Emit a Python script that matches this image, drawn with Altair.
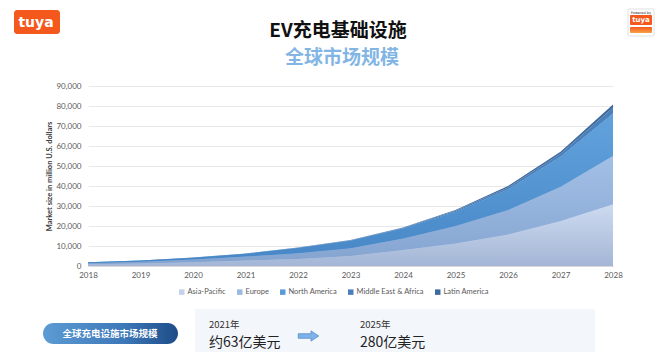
import altair as alt
import pandas as pd

# ---------------- data ----------------
years = list(range(2018, 2029))
regions = ["Asia-Pacific", "Europe", "North America", "Middle East & Africa", "Latin America"]
asia_pacific = [900, 1300, 1900, 2700, 3500, 5000, 8000, 11300, 15800, 22500, 30850]
europe = [500, 800, 1300, 2000, 2900, 3900, 5800, 8700, 12200, 17150, 24300]
north_america = [450, 620, 900, 1400, 2600, 3700, 5000, 7000, 10300, 15000, 21150]
middle_east_africa = [30, 50, 60, 120, 180, 250, 300, 600, 1000, 1500, 2800]
latin_america = [20, 30, 40, 80, 120, 150, 200, 400, 700, 1000, 1700]
series = [asia_pacific, europe, north_america, middle_east_africa, latin_america]
region_colors = ["#c3d2ea", "#9bb8e0", "#5b9bd5", "#4b80ba", "#3f6a9e"]
y_ticks = list(range(0, 90001, 10000))

title_text = "EV充电基础设施"
subtitle_text = "全球市场规模"
pill_text = "全球充电设施市场规模"
left_year, left_value = "2021年", "约63亿美元"
right_year, right_value = "2025年", "280亿美元"

rows = []
for k, (name, vals) in enumerate(zip(regions, series)):
    for yr, v in zip(years, vals):
        rows.append({"year": yr, "region": name, "order": k, "value": v})
df = pd.DataFrame(rows)

FONT = "Lato"
CJK = "Noto Sans CJK SC"

x_enc = alt.X("year:Q", scale=alt.Scale(domain=[2018, 2028], nice=False, zero=False),
              axis=alt.Axis(values=years, format="d", title=None, grid=False, ticks=False,
                            domain=True, domainColor="#d9d9d9", labelColor="#595959",
                            labelFontSize=8, labelPadding=5, labelFont=FONT, labelFlush=False))
y_enc = alt.Y("lo:Q", scale=alt.Scale(domain=[0, 90000], nice=False),
              axis=alt.Axis(values=y_ticks, format=",.0f", title="Market size in million U.S. dollars",
                            titleFontSize=7.5, titleFontWeight="bold", titleColor="#404040",
                            titleFont=FONT, titlePadding=2,
                            grid=True, gridColor="#e8e8e8", ticks=False, domain=False,
                            labelColor="#595959", labelFontSize=8, labelPadding=7, labelFont=FONT))

stacked = alt.Chart(df).transform_stack(
    stack="value", groupby=["year"], as_=["lo", "hi"], sort=[alt.SortField("order")]
)

base_area = stacked.mark_area(interpolate="linear").encode(
    x=x_enc, y=y_enc, y2="hi:Q",
    color=alt.Color("region:N", scale=alt.Scale(domain=regions, range=region_colors),
                    legend=alt.Legend(title=None, orient="none", direction="horizontal",
                                      legendX=90, legendY=202, symbolType="square",
                                      symbolSize=30, symbolStrokeWidth=0,
                                      labelFontSize=7.5, labelColor="#595959", labelFont=FONT,
                                      columnPadding=10, symbolOffset=0, labelOffset=2)),
    order="order:Q",
)

grads = {
    "Asia-Pacific": ["#cddbf0", "#a4b6d6"],
    "Europe": ["#a3c0e6", "#84a4d0"],
    "North America": ["#62a2dc", "#4787c7"],
}
overlays = []
for r, (c1, c2) in grads.items():
    overlays.append(
        stacked.transform_filter(alt.datum.region == r).mark_area(
            interpolate="linear",
            color=alt.Gradient(gradient="linear",
                               stops=[alt.GradientStop(color=c1, offset=0),
                                      alt.GradientStop(color=c2, offset=1)],
                               x1=1, x2=1, y1=0, y2=1)
        ).encode(x=x_enc, y=y_enc, y2="hi:Q")
    )

one = pd.DataFrame({"k": [0]})

def text_layer(txt, x, y, size, color, weight="normal", font=CJK, align="center", baseline="middle"):
    return alt.Chart(one).mark_text(text=txt, fontSize=size, color=color, fontWeight=weight,
                                    font=font, align=align, baseline=baseline).encode(
        x=alt.value(x), y=alt.value(y))

def rect_layer(x, x2, y, y2, color, radius=0, stroke=None):
    kw = dict(cornerRadius=radius)
    if stroke:
        kw.update(stroke=stroke, strokeWidth=0.6)
    return alt.Chart(one).mark_rect(color=color, **kw).encode(
        x=alt.value(x), x2=alt.value(x2), y=alt.value(y), y2=alt.value(y2))

OX, OY = 88, 86  # plot origin on canvas

decor = [
    # titles
    text_layer(title_text, 338 - OX, 31 - OY, 19, "#111111", weight="bold"),
    text_layer(subtitle_text, 342 - OX, 58 - OY, 19, "#82b5e4", weight="bold"),
    # left logo
    rect_layer(14 - OX, 60 - OX, 10 - OY, 34 - OY, "#f4581c", radius=3),
    text_layer("tuya", 36 - OX, 23 - OY, 14, "white", weight="bold", font="DejaVu Sans"),
    # right logo
    rect_layer(628 - OX, 654 - OX, 9 - OY, 36 - OY, "#ffffff", radius=1, stroke="#cccccc"),
    text_layer("Powered by", 641 - OX, 12.5 - OY, 3.5, "#333333", font="DejaVu Sans"),
    rect_layer(630 - OX, 652 - OX, 15 - OY, 25 - OY, "#f4581c", radius=1),
    text_layer("tuya", 641 - OX, 20 - OY, 7, "white", weight="bold", font="DejaVu Sans"),
    alt.Chart(one).mark_rect(cornerRadius=1, color=alt.Gradient(
        gradient="linear", stops=[alt.GradientStop(color="#f4581c", offset=0),
                                  alt.GradientStop(color="#f7a24a", offset=1)],
        x1=0, x2=0, y1=0, y2=1)).encode(
        x=alt.value(630 - OX), x2=alt.value(652 - OX), y=alt.value(27 - OY), y2=alt.value(33 - OY)),
    # bottom panel
    rect_layer(195 - OX, 595 - OX, 309 - OY, 352 - OY, "#f3f6fb"),
    alt.Chart(one).mark_rect(cornerRadius=10.5, color=alt.Gradient(
        gradient="linear", stops=[alt.GradientStop(color="#5c9bd4", offset=0),
                                  alt.GradientStop(color="#3d78b8", offset=0.6),
                                  alt.GradientStop(color="#1d4c88", offset=1)],
        x1=0, x2=1, y1=0, y2=0)).encode(
        x=alt.value(43 - OX), x2=alt.value(178 - OX), y=alt.value(323 - OY), y2=alt.value(344 - OY)),
    text_layer(pill_text, 110 - OX, 333.5 - OY, 9.5, "white", weight="bold"),
    text_layer(left_year, 209 - OX, 328 - OY, 9.5, "#333333", align="left", baseline="alphabetic"),
    text_layer(left_value, 209 - OX, 347 - OY, 14, "#222222", align="left", baseline="alphabetic"),
    text_layer(right_year, 360 - OX, 328 - OY, 9.5, "#333333", align="left", baseline="alphabetic"),
    text_layer(right_value, 360 - OX, 347 - OY, 14, "#222222", align="left", baseline="alphabetic"),
    alt.Chart(one).mark_point(
        shape="M-1,-0.22 L0.25,-0.22 L0.25,-0.5 L1,0 L0.25,0.5 L0.25,0.22 L-1,0.22 Z",
        filled=True, fill="#7db3e8", stroke="#4a7fc0", strokeWidth=0.7, opacity=1, size=420
    ).encode(x=alt.value(308.5 - OX), y=alt.value(336 - OY)),
]

chart = alt.layer(base_area, *overlays, *decor).properties(
    width=525, height=180,
    autosize=alt.AutoSizeParams(type="none"),
    padding={"left": 88, "top": 86, "right": 48, "bottom": 86},
    background="white",
).configure_view(stroke=None)

chart.save("out.html", embed_options={"renderer": "svg", "actions": False})
